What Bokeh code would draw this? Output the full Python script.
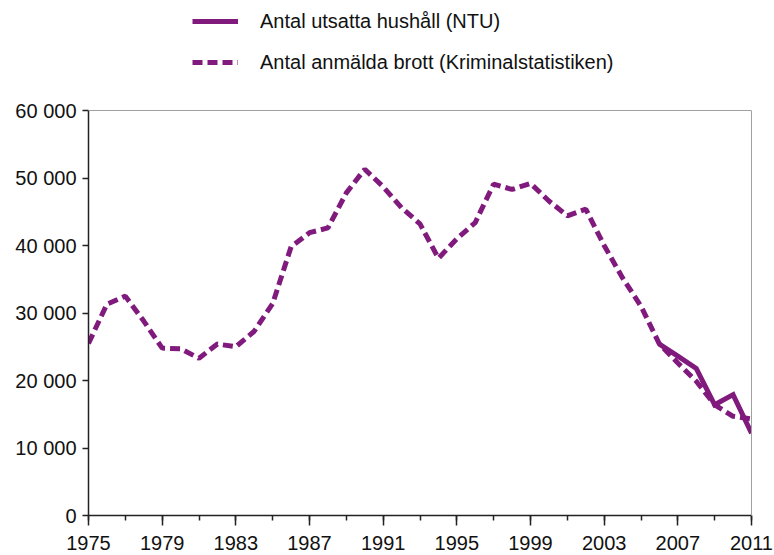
from bokeh.plotting import figure
from bokeh.models import Range1d, FixedTicker, Legend, LegendItem, LinearAxis, Span
from bokeh.embed import file_html
from bokeh.resources import INLINE

# ---- data ----
years_krim = list(range(1975, 2012))
krim = [25500, 31300, 32500, 28800, 24800, 24700, 23300, 25400, 25000, 27300,
        31400, 39800, 41900, 42600, 47800, 51300, 48700, 45600, 43200, 38100,
        41000, 43400, 49100, 48300, 49200, 46600, 44400, 45400, 40000, 35200,
        31000, 25400, 22600, 19900, 16400, 14700, 14300]
years_ntu = [2006, 2007, 2008, 2009, 2010, 2011]
ntu = [25400, 23600, 21800, 16400, 17900, 12200]

x_major = list(range(1975, 2012, 4))
x_minor = list(range(1975, 2012, 2))
y_ticks = [0, 10000, 20000, 30000, 40000, 50000, 60000]
y_labels = ["0", "10 000", "20 000", "30 000", "40 000", "50 000", "60 000"]

label_ntu = "Antal utsatta hushåll (NTU)"
label_krim = "Antal anmälda brott (Kriminalstatistiken)"

PURPLE = "#801B7D"
FONT = "Liberation Sans"

W, H = 774, 555
LEFT, RIGHT, BOTTOM = 88, 23, 40
PLOT_TOP_PX = 110  # where the 60 000 line sits
frame_h = H - BOTTOM
y_max = y_ticks[-1] * frame_h / (frame_h - PLOT_TOP_PX)

p = figure(width=W, height=H, output_backend="svg", toolbar_location=None,
           x_range=Range1d(x_major[0], x_major[-1]), y_range=Range1d(0, y_max),
           min_border_left=LEFT, min_border_right=RIGHT, min_border_top=0,
           min_border_bottom=BOTTOM)
p.xgrid.visible = False
p.ygrid.visible = False
p.outline_line_color = None
p.background_fill_color = "white"
p.border_fill_color = "white"

# top border of plot area
p.add_layout(Span(location=y_ticks[-1], dimension="width",
                  line_color="#a0a0a0", line_width=1))

r_krim = p.line(years_krim, krim, line_color=PURPLE, line_width=5,
                line_dash="10 5")
r_ntu = p.line(years_ntu, ntu, line_color=PURPLE, line_width=5,
               line_join="miter")

# x axis
xa = p.xaxis[0]
xa.ticker = FixedTicker(ticks=x_major, minor_ticks=x_minor)
xa.major_tick_out = 10
xa.major_tick_in = 0
xa.minor_tick_out = 5
xa.minor_tick_in = 0
xa.axis_line_color = "#222222"
xa.axis_line_width = 1.5
xa.major_tick_line_color = "#222222"
xa.major_tick_line_width = 1.5
xa.minor_tick_line_color = "#222222"
xa.minor_tick_line_width = 1.5
xa.major_label_text_font = FONT
xa.major_label_text_font_size = "20px"
xa.major_label_text_color = "#111111"
xa.major_label_standoff = 10

# y axis
ya = p.yaxis[0]
ya.bounds = (y_ticks[0], y_ticks[-1])
ya.ticker = FixedTicker(ticks=y_ticks, minor_ticks=[])
ya.major_label_overrides = {t: l for t, l in zip(y_ticks, y_labels)}
ya.major_tick_out = 6
ya.major_tick_in = 0
ya.minor_tick_out = 0
ya.minor_tick_in = 0
ya.axis_line_color = "#222222"
ya.axis_line_width = 1.5
ya.major_tick_line_color = "#222222"
ya.major_tick_line_width = 1.5
ya.major_label_text_font = FONT
ya.major_label_text_font_size = "20px"
ya.major_label_text_color = "#111111"
ya.major_label_standoff = 6

# right border of plot area
ra = LinearAxis(bounds=(y_ticks[0], y_ticks[-1]), ticker=FixedTicker(ticks=[]),
                major_label_text_font_size="0px", major_tick_line_color=None,
                minor_tick_line_color=None, axis_line_color="#a0a0a0",
                axis_line_width=1)
p.add_layout(ra, "right")

legend = Legend(items=[LegendItem(label=label_ntu, renderers=[r_ntu]),
                       LegendItem(label=label_krim, renderers=[r_krim])],
                location=(104, 438), orientation="vertical",
                glyph_width=46, glyph_height=30, label_height=30,
                label_standoff=22, spacing=11, padding=0, margin=0,
                border_line_color=None, background_fill_alpha=0,
                label_text_font=FONT, label_text_font_size="20px",
                label_text_color="#111111")
p.add_layout(legend, "center")

open("out.html", "w").write(file_html(p, INLINE))
